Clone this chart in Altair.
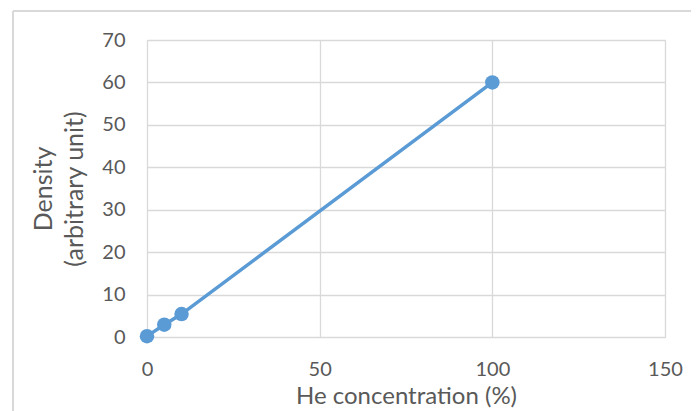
import altair as alt
import pandas as pd

he_concentration = [0, 5, 10, 100]
density = [0.2, 2.9, 5.4, 60]

x_ticks = [0, 50, 100, 150]
y_ticks = [0, 10, 20, 30, 40, 50, 60, 70]

df = pd.DataFrame({"he": he_concentration, "density": density})

FONT = "Lato"
GRID = "#d9d9d9"
TEXT = "#595959"
BLUE = "#5b9bd5"

base = alt.Chart(df)

line = base.mark_line(color=BLUE, strokeWidth=3.5).encode(
    x=alt.X(
        "he:Q",
        scale=alt.Scale(domain=[0, 150], nice=False, zero=True),
        axis=alt.Axis(
            values=x_ticks,
            title="He concentration (%)",
            grid=True,
            gridColor=GRID,
            gridWidth=1.3,
            domain=False,
            ticks=False,
            labelFlush=False,
            labelPadding=22,
            labelFontSize=20,
            labelColor=TEXT,
            labelFont=FONT,
            titleFont=FONT,
            titleFontSize=24,
            titleFontWeight="normal",
            titleColor=TEXT,
            titlePadding=5,
        ),
    ),
    y=alt.Y(
        "density:Q",
        scale=alt.Scale(domain=[0, 70], nice=False),
        axis=alt.Axis(
            values=y_ticks,
            title=["Density", "(arbitrary unit)"],
            grid=True,
            gridColor=GRID,
            gridWidth=1.3,
            domain=False,
            ticks=False,
            labelFlush=False,
            labelPadding=22,
            labelFontSize=20,
            labelColor=TEXT,
            labelFont=FONT,
            titleFont=FONT,
            titleFontSize=25,
            titleFontWeight="normal",
            titleColor=TEXT,
            titleLineHeight=31,
            titlePadding=14,
        ),
    ),
)

points = base.mark_point(filled=True, color=BLUE, size=210, opacity=1).encode(
    x="he:Q", y="density:Q"
)

# outer chart border (decorative frame, partly cropped in the reference)
frame_top = alt.Chart(df).mark_rule(color=GRID, strokeWidth=2).encode(
    x=alt.value(-134), x2=alt.value(560), y=alt.value(-29)
)
frame_left = alt.Chart(df).mark_rule(color=GRID, strokeWidth=2).encode(
    x=alt.value(-134), y=alt.value(-29), y2=alt.value(380)
)

chart = (
    alt.layer(frame_top, frame_left, line, points)
    .properties(
        width=518,
        height=297,
        autosize=alt.AutoSizeParams(type="none"),
        padding={"left": 139, "top": 32, "right": 26, "bottom": 74},
    )
    .configure_view(stroke=GRID, strokeWidth=1.3)
    .configure(background="white")
)

chart.save("out.html", embed_options={"renderer": "svg", "actions": False})
